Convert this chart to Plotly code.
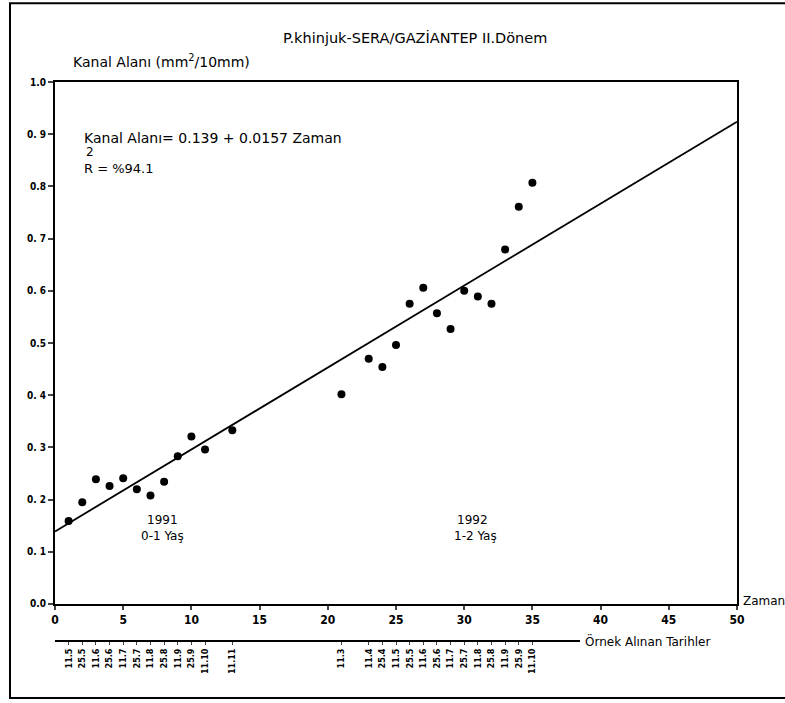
import plotly.graph_objects as go

# ---- data ----
zaman = [1, 2, 3, 4, 5, 6, 7, 8, 9, 10, 11, 13,
         21, 23, 24, 25, 26, 27, 28, 29, 30, 31, 32, 33, 34, 35]
kanal_alani = [0.159, 0.195, 0.239, 0.226, 0.241, 0.220, 0.208, 0.234, 0.283, 0.321, 0.296, 0.333,
               0.402, 0.470, 0.454, 0.496, 0.575, 0.606, 0.557, 0.527, 0.600, 0.589, 0.575, 0.679, 0.761, 0.807]
tarihler = ["11.5", "25.5", "11.6", "25.6", "11.7", "25.7", "11.8", "25.8", "11.9", "25.9", "11.10", "11.11",
            "11.3", "11.4", "25.4", "11.5", "25.5", "11.6", "25.6", "11.7", "25.7", "11.8", "25.8", "11.9", "25.9", "11.10"]
intercept = 0.139
slope = 0.0157
line_x = [0, 50]
x_ticks = [0, 5, 10, 15, 20, 25, 30, 35, 40, 45, 50]
y_ticks = [0.0, 0.1, 0.2, 0.3, 0.4, 0.5, 0.6, 0.7, 0.8, 0.9, 1.0]
y_ticktext = ["0.0", "0. 1", "0. 2", "0. 3", "0. 4", "0.5", "0. 6", "0. 7", "0.8", "0. 9", "1.0"]

FONT = "DejaVu Sans Condensed, Liberation Sans Narrow, sans-serif"
TFONT = "DejaVu Sans, sans-serif"

fig = go.Figure()

# invisible trace on the date axis so it is drawn
fig.add_trace(go.Scatter(
    x=zaman, y=kanal_alani, xaxis="x2", yaxis="y", mode="markers",
    marker=dict(opacity=0, size=1), hoverinfo="skip", showlegend=False))

fig.add_trace(go.Scatter(
    x=line_x, y=[intercept + slope * v for v in line_x],
    mode="lines", line=dict(color="black", width=1.8),
    hoverinfo="skip", showlegend=False))

fig.add_trace(go.Scatter(
    x=zaman, y=kanal_alani, mode="markers",
    marker=dict(color="black", size=8), showlegend=False))

fig.update_layout(
    width=785, height=703,
    margin=dict(l=55, r=48, t=82, b=62),
    paper_bgcolor="white", plot_bgcolor="rgba(0,0,0,0)",
    font=dict(family=FONT, color="black"),
    xaxis=dict(range=[0, 50], domain=[0, 1], tickvals=x_ticks, ticks="outside", ticklen=4, tickwidth=1.5,
               showline=True, linecolor="black", linewidth=2, mirror=True,
               showgrid=False, zeroline=False, automargin=False,
               tickfont=dict(size=12, family=FONT, weight="bold"), anchor="y"),
    xaxis2=dict(range=[0, 38.5], domain=[0, 0.77], anchor="free", position=0,
                tickvals=zaman, ticktext=tarihler, tickangle=-90, ticks="outside", ticklen=3,
                tickwidth=1.2, showline=True, linecolor="black", linewidth=1.8,
                showgrid=False, zeroline=False, automargin=False,
                tickfont=dict(size=9, family=FONT, weight="bold")),
    yaxis=dict(range=[0, 1.0], domain=[0.0662, 1], tickvals=y_ticks, ticktext=y_ticktext,
               ticks="outside", ticklen=5, tickwidth=1.5,
               showline=True, linecolor="black", linewidth=2, mirror=True,
               showgrid=False, zeroline=False, automargin=False,
               tickfont=dict(size=10, family=FONT, weight="bold")),
    shapes=[dict(type="rect", xref="paper", yref="paper",
                 x0=-0.066, x1=1.08, y0=-0.102, y1=1.141,
                 line=dict(color="black", width=2), layer="below")],
)

def note(text, x, y, xanchor="left", size=13, xref="paper", yref="paper"):
    return dict(text=text, x=x, y=y, xref=xref, yref=yref, showarrow=False,
                xanchor=xanchor, yanchor="middle", font=dict(size=size, family=TFONT))

ann = [
    note("P.khinjuk-SERA/GAZİANTEP II.Dönem", 0.528, 1.079, "center", 14.5),
    note("Kanal Alanı (mm<sup>2</sup>/10mm)", 0.023, 1.038, "left", 14),
    note("Kanal Alanı= 0.139 + 0.0157 Zaman", 0.040, 0.900, "left", 14),
    note("R = %94.1", 0.040, 0.845, "left", 13),
    note("2", 0.043, 0.875, "left", 12),
    note("1991", 7.9, 0.160, "center", 12, "x", "y"),
    note("0-1 Yaş", 7.9, 0.131, "center", 12, "x", "y"),
    note("1992", 30.6, 0.160, "center", 12, "x", "y"),
    note("1-2 Yaş", 30.8, 0.131, "center", 12, "x", "y"),
    note("Zaman", 1.006, 0.072, "left", 12),
    note("Örnek Alınan Tarihler", 0.774, 0.0, "left", 12),
]
fig.update_layout(annotations=ann)

fig.write_html("out.html", config={"displayModeBar": False},
               post_script="document.body.style.margin='0';document.body.style.padding='0';")
